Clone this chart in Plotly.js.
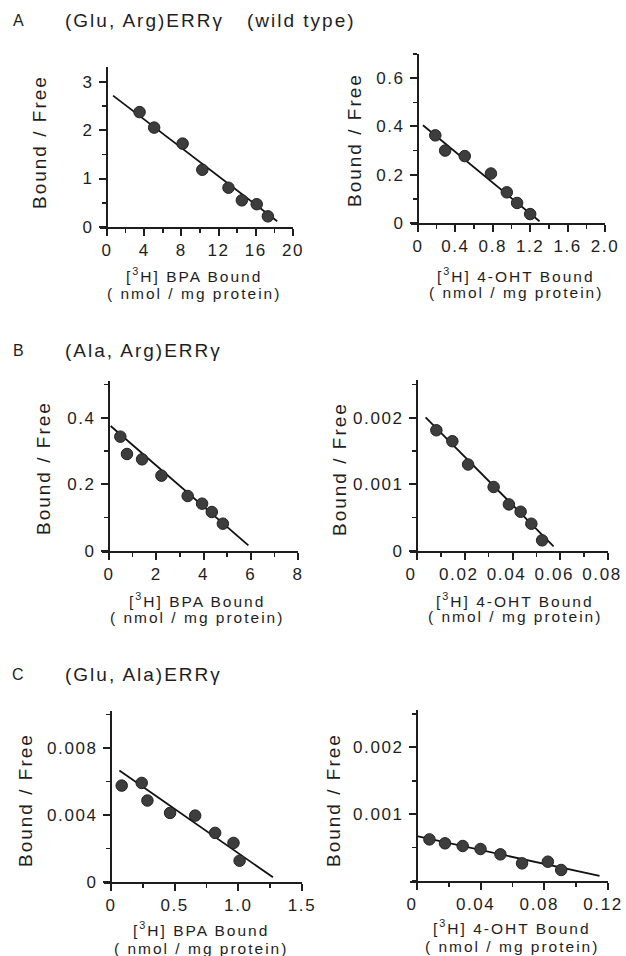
<!DOCTYPE html>
<html>
<head>
<meta charset="utf-8">
<script src="https://cdn.plot.ly/plotly-3.0.1.min.js"></script>
<style>
  html, body { margin: 0; padding: 0; background: #fff; }
  #chart { width: 626px; height: 956px; }
  .xaxislayer-above text, .yaxislayer-above text { letter-spacing: 1.6px; }
  .annotation-text { letter-spacing: 2px; }
</style>
</head>
<body>
<div id="chart"></div>
<script>
// ---------------- data ----------------
// Panel A (wild type), BPA
const aBpaX = [3.5, 5.07, 8.13, 10.25, 13.06, 14.5, 16.1, 17.3];
const aBpaY = [2.37, 2.05, 1.72, 1.18, 0.81, 0.55, 0.47, 0.22];
const aBpaFitX = [0.65, 18.3];
const aBpaFitY = [2.71, 0.12];
// Panel A, 4-OHT
const aOhtX = [0.185, 0.29, 0.50, 0.78, 0.95, 1.06, 1.20];
const aOhtY = [0.363, 0.30, 0.277, 0.205, 0.127, 0.083, 0.037];
const aOhtFitX = [0.053, 1.30];
const aOhtFitY = [0.405, 0.007];
// Panel B, BPA
const bBpaX = [0.48, 0.76, 1.40, 2.22, 3.33, 3.94, 4.35, 4.82];
const bBpaY = [0.343, 0.291, 0.275, 0.226, 0.165, 0.142, 0.117, 0.082];
const bBpaFitX = [0.07, 5.9];
const bBpaFitY = [0.375, 0.017];
// Panel B, 4-OHT
const bOhtX = [0.0081, 0.0148, 0.0214, 0.0321, 0.0385, 0.0434, 0.0479, 0.0524];
const bOhtY = [0.001815, 0.00165, 0.0013, 0.000962, 0.0007, 0.00059, 0.00041, 0.00016];
const bOhtFitX = [0.0036, 0.0572];
const bOhtFitY = [0.00201, 0.00007];
// Panel C, BPA
const cBpaX = [0.084, 0.241, 0.286, 0.464, 0.661, 0.818, 0.962, 1.01];
const cBpaY = [0.00575, 0.00591, 0.00486, 0.00412, 0.00396, 0.00293, 0.00233, 0.00127];
const cBpaFitX = [0.066, 1.272];
const cBpaFitY = [0.00665, 0.00028];
// Panel C, 4-OHT
const cOhtX = [0.0078, 0.0176, 0.0287, 0.0399, 0.0524, 0.066, 0.0822, 0.0906];
const cOhtY = [0.000623, 0.000564, 0.000524, 0.000479, 0.000399, 0.000264, 0.000289, 0.000165];
const cOhtFitX = [0, 0.1147];
const cOhtFitY = [0.000673, 0.000075];

// tick values / labels
const a1XTicks = [0, 4, 8, 12, 16, 20];
const a1XText = ['0', '4', '8', '12', '16', '20'];
const a1YTicks = [0, 1, 2, 3];
const a1YText = ['0', '1', '2', '3'];
const a2XTicks = [0, 0.4, 0.8, 1.2, 1.6, 2.0];
const a2XText = ['0', '0.4', '0.8', '1.2', '1.6', '2.0'];
const a2YTicks = [0, 0.2, 0.4, 0.6];
const a2YText = ['0', '0.2', '0.4', '0.6'];
const b1XTicks = [0, 2, 4, 6, 8];
const b1XText = ['0', '2', '4', '6', '8'];
const b1YTicks = [0, 0.2, 0.4];
const b1YText = ['0', '0.2', '0.4'];
const b2XTicks = [0, 0.02, 0.04, 0.06, 0.08];
const b2XText = ['0', '0.02', '0.04', '0.06', '0.08'];
const b2YTicks = [0, 0.001, 0.002];
const b2YText = ['0', '0.001', '0.002'];
const c1XTicks = [0, 0.5, 1.0, 1.5];
const c1XText = ['0', '0.5', '1.0', '1.5'];
const c1YTicks = [0, 0.004, 0.008];
const c1YText = ['0', '0.004', '0.008'];
const c2XTicks = [0, 0.04, 0.08, 0.12];
const c2XText = ['0', '0.04', '0.08', '0.12'];
const c2YTicks = [0.001, 0.002];
const c2YText = ['0.001', '0.002'];

// texts
const panelLetters = ['A', 'B', 'C'];
const panelTitles = ['(Glu, Arg)ERRγ', '(Ala, Arg)ERRγ', '(Glu, Ala)ERRγ'];
const wildTypeNote = '(wild type)';
const yTitle = 'Bound / Free';
const xTitleBpa = '[<sup>3</sup>H] BPA Bound';
const xTitleOht = '[<sup>3</sup>H] 4-OHT Bound';
const xTitleUnit = '( nmol / mg protein)';

// ---------------- layout geometry (pixels) ----------------
const W = 626, H = 956;
const FONT = '"Liberation Sans", Arial, Helvetica, sans-serif';
const INK = '#1e1e1e';

const panels = [
  {x: aBpaX, y: aBpaY, fx: aBpaFitX, fy: aBpaFitY, box: [107, 293, 67, 227], xr: [0, 20], yr: [0, 3.3],
   xt: a1XTicks, xtt: a1XText, yt: a1YTicks, ytt: a1YText, xm: 2, ym: 0.5, xshift: 0,
   xtitle: xTitleBpa, xtc: [194, 275, 293], ytc: [40, 142]},
  {x: aOhtX, y: aOhtY, fx: aOhtFitX, fy: aOhtFitY, box: [418, 605, 54, 223], xr: [0, 2.0], yr: [0, 0.7],
   xt: a2XTicks, xtt: a2XText, yt: a2YTicks, ytt: a2YText, xm: 0.2, ym: 0.1, xshift: 0,
   xtitle: xTitleOht, xtc: [516, 275, 292], ytc: [354, 140]},
  {x: bBpaX, y: bBpaY, fx: bBpaFitX, fy: bBpaFitY, box: [109, 298, 381, 551], xr: [0, 8], yr: [0, 0.51],
   xt: b1XTicks, xtt: b1XText, yt: b1YTicks, ytt: b1YText, xm: 1, ym: 0.1, xshift: 0,
   xtitle: xTitleBpa, xtc: [197, 600, 617], ytc: [43, 468]},
  {x: bOhtX, y: bOhtY, fx: bOhtFitX, fy: bOhtFitY, box: [417, 608, 380, 551], xr: [0, 0.08], yr: [0, 0.00257],
   xt: b2XTicks, xtt: b2XText, yt: b2YTicks, ytt: b2YText, xm: 0.01, ym: 0.0005, xshift: -6,
   xtitle: xTitleOht, xtc: [515, 600, 616], ytc: [339, 469]},
  {x: cBpaX, y: cBpaY, fx: cBpaFitX, fy: cBpaFitY, box: [111, 302, 711, 882], xr: [0, 1.5], yr: [0, 0.0102],
   xt: c1XTicks, xtt: c1XText, yt: c1YTicks, ytt: c1YText, xm: 0.25, ym: 0.002, xshift: 0,
   xtitle: xTitleBpa, xtc: [201, 929, 948], ytc: [25, 800]},
  {x: cOhtX, y: cOhtY, fx: cOhtFitX, fy: cOhtFitY, box: [417, 608, 710, 881], xr: [0, 0.12], yr: [0, 0.00256],
   xt: c2XTicks, xtt: c2XText, yt: c2YTicks, ytt: c2YText, xm: 0.02, ym: 0.0005, xshift: -5,
   xtitle: xTitleOht, xtc: [512, 927, 946], ytc: [333, 800]}
];

const EXT = 7; // x-axis line extends a little left of the y axis
const traces = [];
const layout = {
  width: W, height: H,
  margin: {l: 0, r: 0, t: 0, b: 0},
  paper_bgcolor: '#fff', plot_bgcolor: 'rgba(0,0,0,0)',
  showlegend: false,
  font: {family: FONT, color: INK, size: 16},
  annotations: []
};

panels.forEach((p, i) => {
  const n = i + 1;
  const xa = 'x' + n, ya = 'y' + n;
  const [x0, x1, yT, yB] = p.box;
  const span = p.xr[1] - p.xr[0];
  const xmin = p.xr[0] - EXT * span / (x1 - x0);
  traces.push({
    x: p.fx, y: p.fy, xaxis: xa, yaxis: ya, type: 'scatter', mode: 'lines',
    line: {color: '#111', width: 1.8}, hoverinfo: 'skip', cliponaxis: false
  });
  traces.push({
    x: p.x, y: p.y, xaxis: xa, yaxis: ya, type: 'scatter', mode: 'markers',
    marker: {size: 11.5, color: '#3d3d3d', line: {color: '#222', width: 1}}, cliponaxis: false
  });
  layout['xaxis' + n] = {
    domain: [(x0 - EXT) / W, x1 / W], range: [xmin, p.xr[1]], anchor: ya,
    showgrid: false, zeroline: false, showline: true, linecolor: INK, linewidth: 2,
    ticks: 'outside', ticklen: 7, tickwidth: 2, tickcolor: INK,
    tickmode: 'array', tickvals: p.xt, ticktext: p.xtt, ticklabelshift: p.xshift,
    tickfont: {family: FONT, size: 17, color: INK},
    minor: {tickmode: 'linear', tick0: 0, dtick: p.xm, ticks: 'outside', ticklen: 4, tickwidth: 1.5, tickcolor: INK},
    fixedrange: true
  };
  layout['yaxis' + n] = {
    domain: [1 - yB / H, 1 - yT / H], range: p.yr, anchor: 'free', position: x0 / W,
    showgrid: false, zeroline: false, showline: true, linecolor: INK, linewidth: 2,
    ticks: 'outside', ticklen: 7, tickwidth: 2, tickcolor: INK,
    tickmode: 'array', tickvals: p.yt, ticktext: p.ytt, ticklabelstandoff: 2,
    tickfont: {family: FONT, size: 17, color: INK},
    minor: {tickmode: 'linear', tick0: 0, dtick: p.ym, ticks: 'outside', ticklen: 4, tickwidth: 1.5, tickcolor: INK},
    fixedrange: true
  };
  // axis titles
  layout.annotations.push({
    xref: 'paper', yref: 'paper', x: p.ytc[0] / W, y: 1 - p.ytc[1] / H,
    text: yTitle, textangle: -90, showarrow: false, xanchor: 'center', yanchor: 'middle',
    font: {family: FONT, size: 19, color: INK}
  });
  layout.annotations.push({
    xref: 'paper', yref: 'paper', x: p.xtc[0] / W, y: 1 - p.xtc[1] / H,
    text: p.xtitle, showarrow: false, xanchor: 'center', yanchor: 'middle',
    font: {family: FONT, size: 15.5, color: INK}
  });
  layout.annotations.push({
    xref: 'paper', yref: 'paper', x: p.xtc[0] / W, y: 1 - p.xtc[2] / H,
    text: xTitleUnit, showarrow: false, xanchor: 'center', yanchor: 'middle',
    font: {family: FONT, size: 15.5, color: INK}
  });
});

// panel letters and titles
const letterY = [20, 350, 674];
panelLetters.forEach((L, i) => {
  layout.annotations.push({
    xref: 'paper', yref: 'paper', x: 19 / W, y: 1 - letterY[i] / H, text: L,
    showarrow: false, xanchor: 'center', yanchor: 'middle',
    font: {family: FONT, size: 16, color: INK}
  });
  layout.annotations.push({
    xref: 'paper', yref: 'paper', x: 63 / W, y: 1 - letterY[i] / H, text: panelTitles[i],
    showarrow: false, xanchor: 'left', yanchor: 'middle',
    font: {family: FONT, size: 19, color: INK}
  });
});
layout.annotations.push({
  xref: 'paper', yref: 'paper', x: 245 / W, y: 1 - letterY[0] / H, text: wildTypeNote,
  showarrow: false, xanchor: 'left', yanchor: 'middle',
  font: {family: FONT, size: 19, color: INK}
});

Plotly.newPlot('chart', traces, layout, {staticPlot: true, displayModeBar: false});
</script>
</body>
</html>
